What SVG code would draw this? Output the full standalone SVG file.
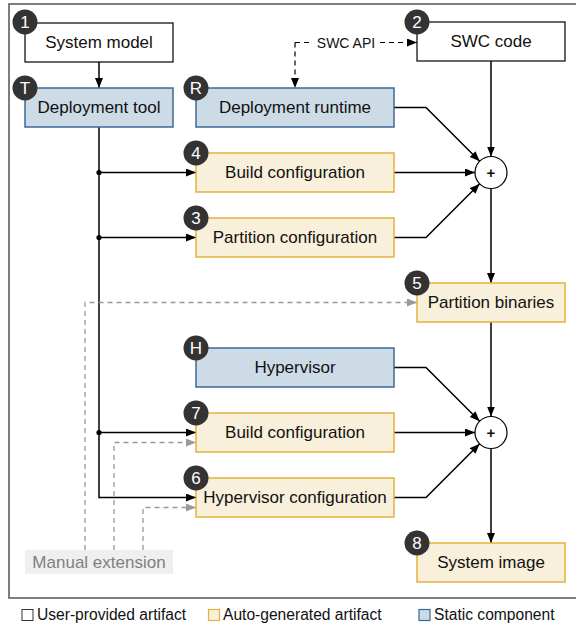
<svg xmlns="http://www.w3.org/2000/svg" width="576" height="626" viewBox="0 0 576 626">
<defs>
<marker id="ab" markerUnits="userSpaceOnUse" markerWidth="11" markerHeight="9" refX="10" refY="4" orient="auto"><path d="M0,0 L10,4 L0,8 z" fill="#000"/></marker>
<marker id="ag" markerUnits="userSpaceOnUse" markerWidth="11" markerHeight="9" refX="10" refY="4" orient="auto"><path d="M0,0 L10,4 L0,8 z" fill="#999"/></marker>
<style>
text{font-family:"Liberation Sans",Arial,Helvetica,sans-serif;font-size:17px;fill:#111;text-anchor:middle}
.user{fill:#fff;stroke:#000;stroke-width:1.2}
.auto{fill:#f8f0da;stroke:#e2b23c;stroke-width:1.5}
.stat{fill:#cddbe6;stroke:#3a6b96;stroke-width:1.5}
.bd{fill:#333}
.bt{fill:#fff;font-size:17px}
.ln{fill:none;stroke:#000;stroke-width:1.5}
.gd{fill:none;stroke:#999;stroke-width:1.3;stroke-dasharray:5,4}
.bdash{fill:none;stroke:#000;stroke-width:1.2;stroke-dasharray:5,4}
.plus{fill:#fff;stroke:#000;stroke-width:1.2}
.lg{font-size:15.6px;text-anchor:start}
</style>
</defs>
<rect x="9" y="4" width="580" height="594" fill="none" stroke="#707070" stroke-width="1.8"/>

<g id="connectors">
<path class="ln" d="M99,62 V88" marker-end="url(#ab)"/>
<path class="ln" d="M99,127 V497.5 H196" marker-end="url(#ab)"/>
<path class="ln" d="M99,172.5 H196" marker-end="url(#ab)"/>
<path class="ln" d="M99,237.5 H196" marker-end="url(#ab)"/>
<path class="ln" d="M99,432.5 H196" marker-end="url(#ab)"/>
<circle cx="99" cy="172.5" r="2.6" fill="#000"/>
<circle cx="99" cy="237.5" r="2.6" fill="#000"/>
<circle cx="99" cy="432.5" r="2.6" fill="#000"/>
<path class="bdash" d="M295,42.5 V88" marker-end="url(#ab)"/>
<path class="bdash" d="M295,42.5 H312"/>
<path class="bdash" d="M380,42.5 H417" marker-end="url(#ab)"/>
<text x="346" y="47.5" style="font-size:14px">SWC API</text>
<path class="ln" d="M491,61 V156.5" marker-end="url(#ab)"/>
<path class="ln" d="M394,107.5 H426 L479.7,161.2" marker-end="url(#ab)"/>
<path class="ln" d="M394,172.5 H475" marker-end="url(#ab)"/>
<path class="ln" d="M394,237.5 H426 L479.7,183.8" marker-end="url(#ab)"/>
<path class="ln" d="M491,188.5 V283" marker-end="url(#ab)"/>
<path class="ln" d="M491,322 V416.5" marker-end="url(#ab)"/>
<path class="ln" d="M394,367.5 H426 L479.7,421.2" marker-end="url(#ab)"/>
<path class="ln" d="M394,432.5 H475" marker-end="url(#ab)"/>
<path class="ln" d="M394,497.5 H426 L479.7,443.8" marker-end="url(#ab)"/>
<path class="ln" d="M491,448.5 V543" marker-end="url(#ab)"/>
<path class="gd" d="M85,550 V302.5 H417" marker-end="url(#ag)"/>
<path class="gd" d="M114,550 V442.5 H196" marker-end="url(#ag)"/>
<path class="gd" d="M143,550 V507.5 H196" marker-end="url(#ag)"/>
</g>

<g id="plus1"><circle class="plus" cx="491" cy="172.5" r="16"/><text x="491" y="178" style="font-size:15px;font-weight:bold">+</text></g>
<g id="plus2"><circle class="plus" cx="491" cy="432.5" r="16"/><text x="491" y="438" style="font-size:15px;font-weight:bold">+</text></g>

<g id="system-model"><rect class="user" x="25" y="23" width="148" height="39"/><text x="99" y="47.5">System model</text><circle class="bd" cx="25" cy="22" r="12.5"/><text class="bt" x="25" y="28">1</text></g>
<g id="swc-code"><rect class="user" x="417" y="22" width="148" height="39"/><text x="491" y="47">SWC code</text><circle class="bd" cx="417" cy="22" r="12.5"/><text class="bt" x="417" y="28">2</text></g>
<g id="deployment-tool"><rect class="stat" x="25" y="88" width="148" height="39"/><text x="99" y="113">Deployment tool</text><circle class="bd" cx="25" cy="88" r="12.5"/><text class="bt" x="25" y="94">T</text></g>
<g id="deployment-runtime"><rect class="stat" x="196" y="88" width="198" height="39"/><text x="295" y="113">Deployment runtime</text><circle class="bd" cx="196" cy="88" r="12.5"/><text class="bt" x="196" y="94">R</text></g>
<g id="build-config-1"><rect class="auto" x="196" y="153" width="198" height="39"/><text x="295" y="178">Build configuration</text><circle class="bd" cx="196" cy="153" r="12.5"/><text class="bt" x="196" y="159">4</text></g>
<g id="partition-config"><rect class="auto" x="196" y="218" width="198" height="39"/><text x="295" y="243">Partition configuration</text><circle class="bd" cx="196" cy="218" r="12.5"/><text class="bt" x="196" y="224">3</text></g>
<g id="partition-binaries"><rect class="auto" x="417" y="283" width="148" height="39"/><text x="491" y="308">Partition binaries</text><circle class="bd" cx="417" cy="283" r="12.5"/><text class="bt" x="417" y="289">5</text></g>
<g id="hypervisor"><rect class="stat" x="196" y="348" width="198" height="39"/><text x="295" y="373">Hypervisor</text><circle class="bd" cx="196" cy="348" r="12.5"/><text class="bt" x="196" y="354">H</text></g>
<g id="build-config-2"><rect class="auto" x="196" y="413" width="198" height="39"/><text x="295" y="438">Build configuration</text><circle class="bd" cx="196" cy="413" r="12.5"/><text class="bt" x="196" y="419">7</text></g>
<g id="hypervisor-config"><rect class="auto" x="196" y="478" width="198" height="39"/><text x="295" y="503">Hypervisor configuration</text><circle class="bd" cx="196" cy="478" r="12.5"/><text class="bt" x="196" y="484">6</text></g>
<g id="system-image"><rect class="auto" x="417" y="543" width="148" height="39"/><text x="491" y="568">System image</text><circle class="bd" cx="417" cy="543" r="12.5"/><text class="bt" x="417" y="549">8</text></g>

<g id="manual-extension"><rect x="25" y="550" width="148" height="24" fill="#efefef"/><text x="99" y="568" style="fill:#808080">Manual extension</text></g>

<g id="legend">
<rect x="22" y="609.5" width="11" height="11" fill="#fff" stroke="#333" stroke-width="1"/>
<text class="lg" x="37" y="619.5">User-provided artifact</text>
<rect x="208.5" y="609.5" width="11" height="11" fill="#f8f0da" stroke="#e2b23c" stroke-width="1.2"/>
<text class="lg" x="223" y="619.5">Auto-generated artifact</text>
<rect x="419" y="609.5" width="11" height="11" fill="#cddbe6" stroke="#3a6b96" stroke-width="1.2"/>
<text class="lg" x="434" y="619.5">Static component</text>
</g>
</svg>
